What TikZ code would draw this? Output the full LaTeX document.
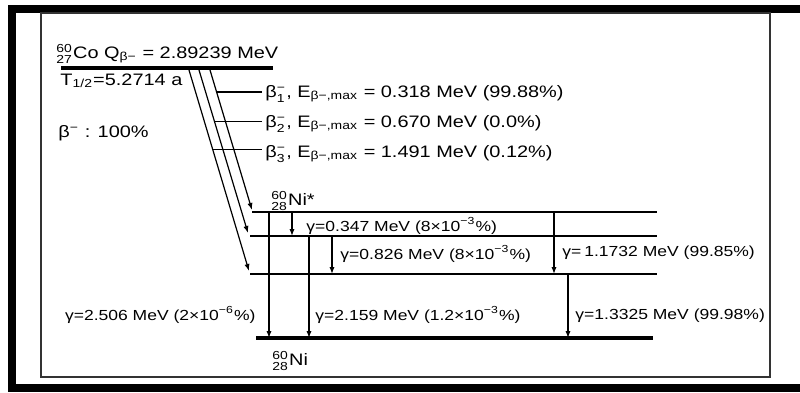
\documentclass[tikz,border=0pt]{standalone}
\usepackage{amsmath}
\usepackage{fontspec}
\setmainfont{Liberation Sans}
\usepackage{tikz}
\usetikzlibrary{arrows.meta,positioning,calc}

\newcommand{\ssc}[2]{$^{\text{#1}}_{\text{#2}}$}
\newcommand{\lowtx}[1]{$_{\text{#1}}$}
\newcommand{\uptx}[1]{$^{\text{#1}}$}

\tikzset{
  txt/.style={inner sep=0pt, xscale=1.2, transform shape},
  toplbl/.style={txt, font=\fontsize{8.3}{10}\selectfont},
  gamlbl/.style={txt, font=\fontsize{7.3}{9}\selectfont},
  level/.style={line width=0.6pt},
  thick level/.style={line width=2.2pt},
  decay/.style={line width=0.6pt, -{Latex[length=3.5pt,width=2.6pt]}},
}

\begin{document}
\begin{tikzpicture}[x=0.5pt, y=-0.5pt]
  \useasboundingbox (0,0) rectangle (800,392);
  % frames
  \draw[line width=4.2pt] (810,9) -- (12,9) -- (12,388) -- (810,388);
  \draw[line width=0.7pt, black!80] (41,13) rectangle (770,377);

  % parent 60Co
  \coordinate (co-l) at (61,68);
  \coordinate (co-r) at (273,68);
  \draw[thick level] (co-l) -- (co-r);
  \node[toplbl, anchor=base west] (co) at (56,58) {\ssc{60}{27}Co Q\lowtx{β−} = 2.89239 MeV};
  \node[toplbl, anchor=base west] (thalf) at (60,85) {T\lowtx{1/2}=5.2714 a};
  \node[toplbl, anchor=base west] (bmode) at (58,137) {β\uptx{−} : 100\%};

  % levels of 60Ni
  \coordinate (l1) at (252,212); \coordinate (l1e) at (657,212);
  \coordinate (l2) at (250,236); \coordinate (l2e) at (657,236);
  \coordinate (l3) at (250,274); \coordinate (l3e) at (657,274);
  \coordinate (g0) at (256,338); \coordinate (g0e) at (653,338);
  \foreach \a/\b in {l1/l1e, l2/l2e, l3/l3e}
    \draw[level] (\a) -- (\b);
  \draw[thick level] (g0) -- (g0e);

  % beta branches
  \coordinate (s1) at (210,70); \coordinate (t1) at (252,210);
  \coordinate (s2) at (199,70); \coordinate (t2) at (248,233);
  \coordinate (s3) at (189,70); \coordinate (t3) at (249,271);
  \foreach \s/\t in {s1/t1, s2/t2, s3/t3}
    \draw[decay] (\s) -- (\t);

  \node[toplbl, anchor=base west] (b1) at (265,97) {β\ssc{−}{1}, E\lowtx{β−,max} = 0.318 MeV (99.88\%)};
  \node[toplbl, anchor=base west] (b2) at (265,127) {β\ssc{−}{2}, E\lowtx{β−,max} = 0.670 MeV (0.0\%)};
  \node[toplbl, anchor=base west] (b3) at (265,157) {β\ssc{−}{3}, E\lowtx{β−,max} = 1.491 MeV (0.12\%)};
  \coordinate (k1) at ($(s1)!0.157!(t1)$);
  \coordinate (k2) at ($(s2)!0.317!(t2)$);
  \coordinate (k3) at ($(s3)!0.397!(t3)$);
  \foreach \k/\b in {k1/b1, k2/b2, k3/b3}
    \draw[level, shorten >=1.5pt] (\k) -- (\k -| \b.west);

  % gamma transitions
  \foreach \gx/\from/\to in {269/l1/g0, 292/l1/l2, 309/l2/g0, 332/l2/l3, 554/l1/l3, 568/l3/g0}{
    \coordinate (gx) at (\gx,0);
    \draw[decay] (gx |- \from) -- (gx |- \to);
  }

  \node[gamlbl, anchor=base east] (g2506) at (256,320) {γ=2.506 MeV (2×10\uptx{−6}\%)};
  \node[gamlbl, anchor=base west] (g347) at (306,231) {γ=0.347 MeV (8×10\uptx{−3}\%)};
  \node[gamlbl, anchor=base west] (g826) at (340,259) {γ=0.826 MeV (8×10\uptx{−3}\%)};
  \node[gamlbl, anchor=base west] (g1173) at (562,256) {γ=\,1.1732 MeV (99.85\%)};
  \node[gamlbl, anchor=base west] (g2159) at (315,320) {γ=2.159 MeV (1.2×10\uptx{−3}\%)};
  \node[gamlbl, anchor=base west] (g1332) at (575,319) {γ=1.3325 MeV (99.98\%)};

  \node[toplbl, anchor=base west] (nistar) at (271,205) {\ssc{60}{28}Ni*};
  \node[toplbl, anchor=base west] (ni) at (272,365) {\ssc{60}{28}Ni};
\end{tikzpicture}
\end{document}
